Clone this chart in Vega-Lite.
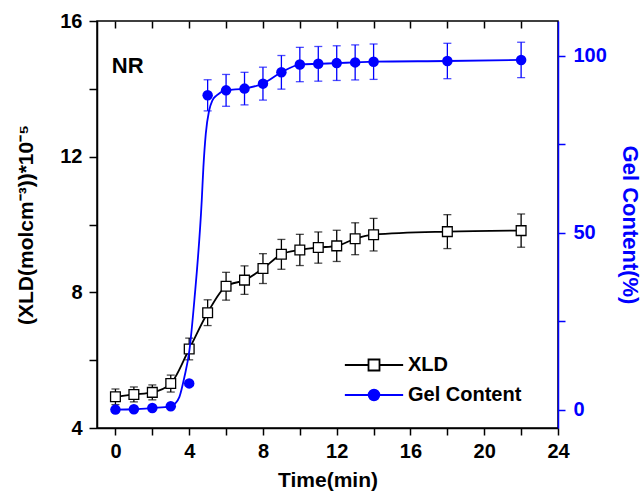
{
  "$schema": "https://vega.github.io/schema/vega-lite/v6.json",
  "width": 461,
  "height": 407,
  "autosize": "none",
  "padding": {"left": 97, "top": 21, "right": 85, "bottom": 67},
  "config": {
    "view": {"stroke": "black", "strokeWidth": 1.5},
    "font": "Liberation Sans",
    "axis": {
      "grid": false,
      "labelFont": "Liberation Sans",
      "labelFontWeight": "bold",
      "labelFontSize": 20,
      "titleFont": "Liberation Sans",
      "titleFontSize": 21,
      "titleFontWeight": "bold",
      "domainColor": "black",
      "tickColor": "black",
      "labelColor": "black",
      "titleColor": "black",
      "domainWidth": 1.5,
      "tickWidth": 1.5
    }
  },
  "datasets": {
    "xld": [
      {"t": 0, "xld": 4.92, "err": 0.23},
      {"t": 1, "xld": 4.99, "err": 0.22},
      {"t": 2, "xld": 5.05, "err": 0.22},
      {"t": 3, "xld": 5.31, "err": 0.25},
      {"t": 4, "xld": 6.33, "err": 0.32},
      {"t": 5, "xld": 7.40, "err": 0.38},
      {"t": 6, "xld": 8.18, "err": 0.41},
      {"t": 7, "xld": 8.36, "err": 0.42},
      {"t": 8, "xld": 8.70, "err": 0.44},
      {"t": 9, "xld": 9.12, "err": 0.44},
      {"t": 10, "xld": 9.25, "err": 0.46},
      {"t": 11, "xld": 9.32, "err": 0.46},
      {"t": 12, "xld": 9.37, "err": 0.46},
      {"t": 13, "xld": 9.58, "err": 0.47},
      {"t": 14, "xld": 9.70, "err": 0.48},
      {"t": 18, "xld": 9.79, "err": 0.5},
      {"t": 22, "xld": 9.82, "err": 0.49}
    ],
    "gel": [
      {"t": 0, "gel": 0, "gerr": 0},
      {"t": 1, "gel": 0.1, "gerr": 0},
      {"t": 2, "gel": 0.45, "gerr": 0},
      {"t": 3, "gel": 0.93, "gerr": 0},
      {"t": 4, "gel": 7.4, "gerr": 0},
      {"t": 5, "gel": 88.8, "gerr": 4.4},
      {"t": 6, "gel": 90.2, "gerr": 4.5},
      {"t": 7, "gel": 90.7, "gerr": 4.6},
      {"t": 8, "gel": 92.1, "gerr": 4.65},
      {"t": 9, "gel": 95.3, "gerr": 4.75},
      {"t": 10, "gel": 97.5, "gerr": 4.85},
      {"t": 11, "gel": 97.7, "gerr": 4.9},
      {"t": 12, "gel": 97.9, "gerr": 4.9},
      {"t": 13, "gel": 98.1, "gerr": 4.95},
      {"t": 14, "gel": 98.3, "gerr": 5},
      {"t": 18, "gel": 98.5, "gerr": 5},
      {"t": 22, "gel": 98.8, "gerr": 5}
    ],
    "gelfit": [
      {"t": 0, "gel": 0},
      {"t": 1, "gel": 0.1},
      {"t": 2, "gel": 0.45},
      {"t": 3, "gel": 0.93},
      {"t": 3.23, "gel": 1.7},
      {"t": 3.47, "gel": 3.6},
      {"t": 3.74, "gel": 9.2},
      {"t": 4.01, "gel": 16.7},
      {"t": 4.28, "gel": 30.9},
      {"t": 4.68, "gel": 59.1},
      {"t": 4.77, "gel": 68.5},
      {"t": 4.9, "gel": 78},
      {"t": 5.08, "gel": 84.5},
      {"t": 5.26, "gel": 87.4},
      {"t": 5.49, "gel": 88.8},
      {"t": 6, "gel": 90.2},
      {"t": 7, "gel": 90.7},
      {"t": 8, "gel": 92.1},
      {"t": 9, "gel": 95.3},
      {"t": 10, "gel": 97.5},
      {"t": 11, "gel": 97.7},
      {"t": 12, "gel": 97.9},
      {"t": 13, "gel": 98.1},
      {"t": 14, "gel": 98.3},
      {"t": 18, "gel": 98.5},
      {"t": 22, "gel": 98.8}
    ],
    "label": [
      {"t": -0.2, "xld": 14.46, "label": "NR"}
    ],
    "series": [
      {"series": "XLD"},
      {"series": "Gel Content"}
    ]
  },
  "layer": [
    {
      "encoding": {
        "x": {
          "field": "t", "type": "quantitative",
          "scale": {"domain": [-1, 24], "nice": false, "zero": false},
          "axis": {
            "orient": "bottom",
            "title": "Time(min)",
            "values": [0, 2, 4, 6, 8, 10, 12, 14, 16, 18, 20, 22, 24],
            "labelExpr": "datum.value % 4 === 0 ? datum.label : ''",
            "tickSize": 7,
            "labelPadding": 6,
            "titlePadding": 8,
            "labelFlush": false,
            "labelOverlap": false
          }
        },
        "y": {
          "field": "xld", "type": "quantitative",
          "scale": {"domain": [4, 16], "nice": false, "zero": false},
          "axis": {
            "title": "(XLD(molcm⁻³))*10⁻⁵",
            "values": [4, 6, 8, 10, 12, 14, 16],
            "labelExpr": "datum.value % 4 === 0 ? datum.label : ''",
            "tickSize": 8,
            "labelPadding": 7,
            "titleFontSize": 21,
            "titleX": -61,
            "titleY": 203.5,
            "titleAngle": -90,
            "titleBaseline": "bottom",
            "titleAlign": "center",
            "labelFlush": false,
            "labelOverlap": false
          }
        }
      },
      "layer": [
        {
          "data": {"name": "xld"},
          "mark": {"type": "line", "color": "black", "strokeWidth": 1.8, "interpolate": "monotone"}
        },
        {
          "data": {"name": "xld"},
          "mark": {"type": "errorbar", "ticks": true, "size": 8, "thickness": 1.3, "color": "black"},
          "encoding": {"yError": {"field": "err"}}
        },
        {
          "data": {"name": "xld"},
          "mark": {"type": "point", "shape": "square", "size": 95, "filled": false, "fill": "white", "stroke": "black", "fillOpacity": 1, "strokeWidth": 1.3, "opacity": 1}
        },
        {
          "data": {"name": "label"},
          "mark": {"type": "text", "align": "left", "baseline": "alphabetic", "font": "Liberation Sans", "fontWeight": "bold", "fontSize": 22, "color": "black"},
          "encoding": {"text": {"field": "label"}}
        },
        {
          "data": {"name": "series"},
          "mark": {"type": "point", "opacity": 1, "strokeWidth": 1.7},
          "encoding": {
            "shape": {
              "field": "series", "type": "nominal",
              "scale": {"domain": ["XLD", "Gel Content"], "range": ["M-5.3,0H-1M1,0H5.3M-1,-1H1V1H-1Z", "M-5.3,0H-0.97M0.97,0H5.3M-0.97,0A0.97,0.97,0,1,0,0.97,0A0.97,0.97,0,1,0,-0.97,0Z"]},
              "legend": {
                "title": null,
                "orient": "none",
                "legendX": 267,
                "legendY": 334,
                "padding": 0,
                "symbolSize": 121,
                "symbolStrokeWidth": 1.8,
                "symbolOpacity": 1,
                "labelFont": "Liberation Sans",
                "labelFontSize": 20,
                "labelFontWeight": "bold",
                "labelColor": "black",
                "labelOffset": 24,
                "rowPadding": 10
              }
            },
            "stroke": {
              "field": "series", "type": "nominal",
              "scale": {"domain": ["XLD", "Gel Content"], "range": ["black", "blue"]}
            },
            "fill": {
              "field": "series", "type": "nominal",
              "scale": {"domain": ["XLD", "Gel Content"], "range": ["white", "blue"]}
            }
          }
        }
      ]
    },
    {
      "encoding": {
        "x": {
          "field": "t", "type": "quantitative",
          "scale": {"domain": [-1, 24], "nice": false, "zero": false},
          "axis": {
            "orient": "top",
            "title": null,
            "labels": false,
            "domain": false,
            "offset": -7,
            "values": [0, 2, 4, 6, 8, 10, 12, 14, 16, 18, 20, 22],
            "tickSize": 7
          }
        },
        "y": {
          "field": "gel", "type": "quantitative",
          "scale": {"domain": [-5.2, 109.8], "nice": false, "zero": false},
          "axis": {
            "orient": "right",
            "title": "Gel Content(%)",
            "values": [0, 25, 50, 75, 100],
            "labelExpr": "datum.value % 50 === 0 ? datum.label : ''",
            "tickSize": 7,
            "labelPadding": 8,
            "domainColor": "blue",
            "tickColor": "blue",
            "labelColor": "blue",
            "titleColor": "blue",
            "titleFontSize": 22,
            "titleX": 59,
            "titleY": 203.5,
            "titleAngle": 90,
            "titleBaseline": "bottom",
            "titleAlign": "center",
            "labelFlush": false,
            "labelOverlap": false
          }
        }
      },
      "layer": [
        {
          "data": {"name": "gelfit"},
          "mark": {"type": "line", "color": "blue", "strokeWidth": 1.8, "interpolate": "monotone"}
        },
        {
          "data": {"name": "gel"},
          "mark": {"type": "errorbar", "ticks": true, "size": 8, "thickness": 1.3, "color": "blue"},
          "encoding": {"yError": {"field": "gerr"}}
        },
        {
          "data": {"name": "gel"},
          "mark": {"type": "point", "shape": "circle", "size": 110, "filled": true, "color": "blue", "opacity": 1}
        }
      ]
    }
  ],
  "resolve": {"scale": {"y": "independent"}, "axis": {"x": "independent"}}
}
